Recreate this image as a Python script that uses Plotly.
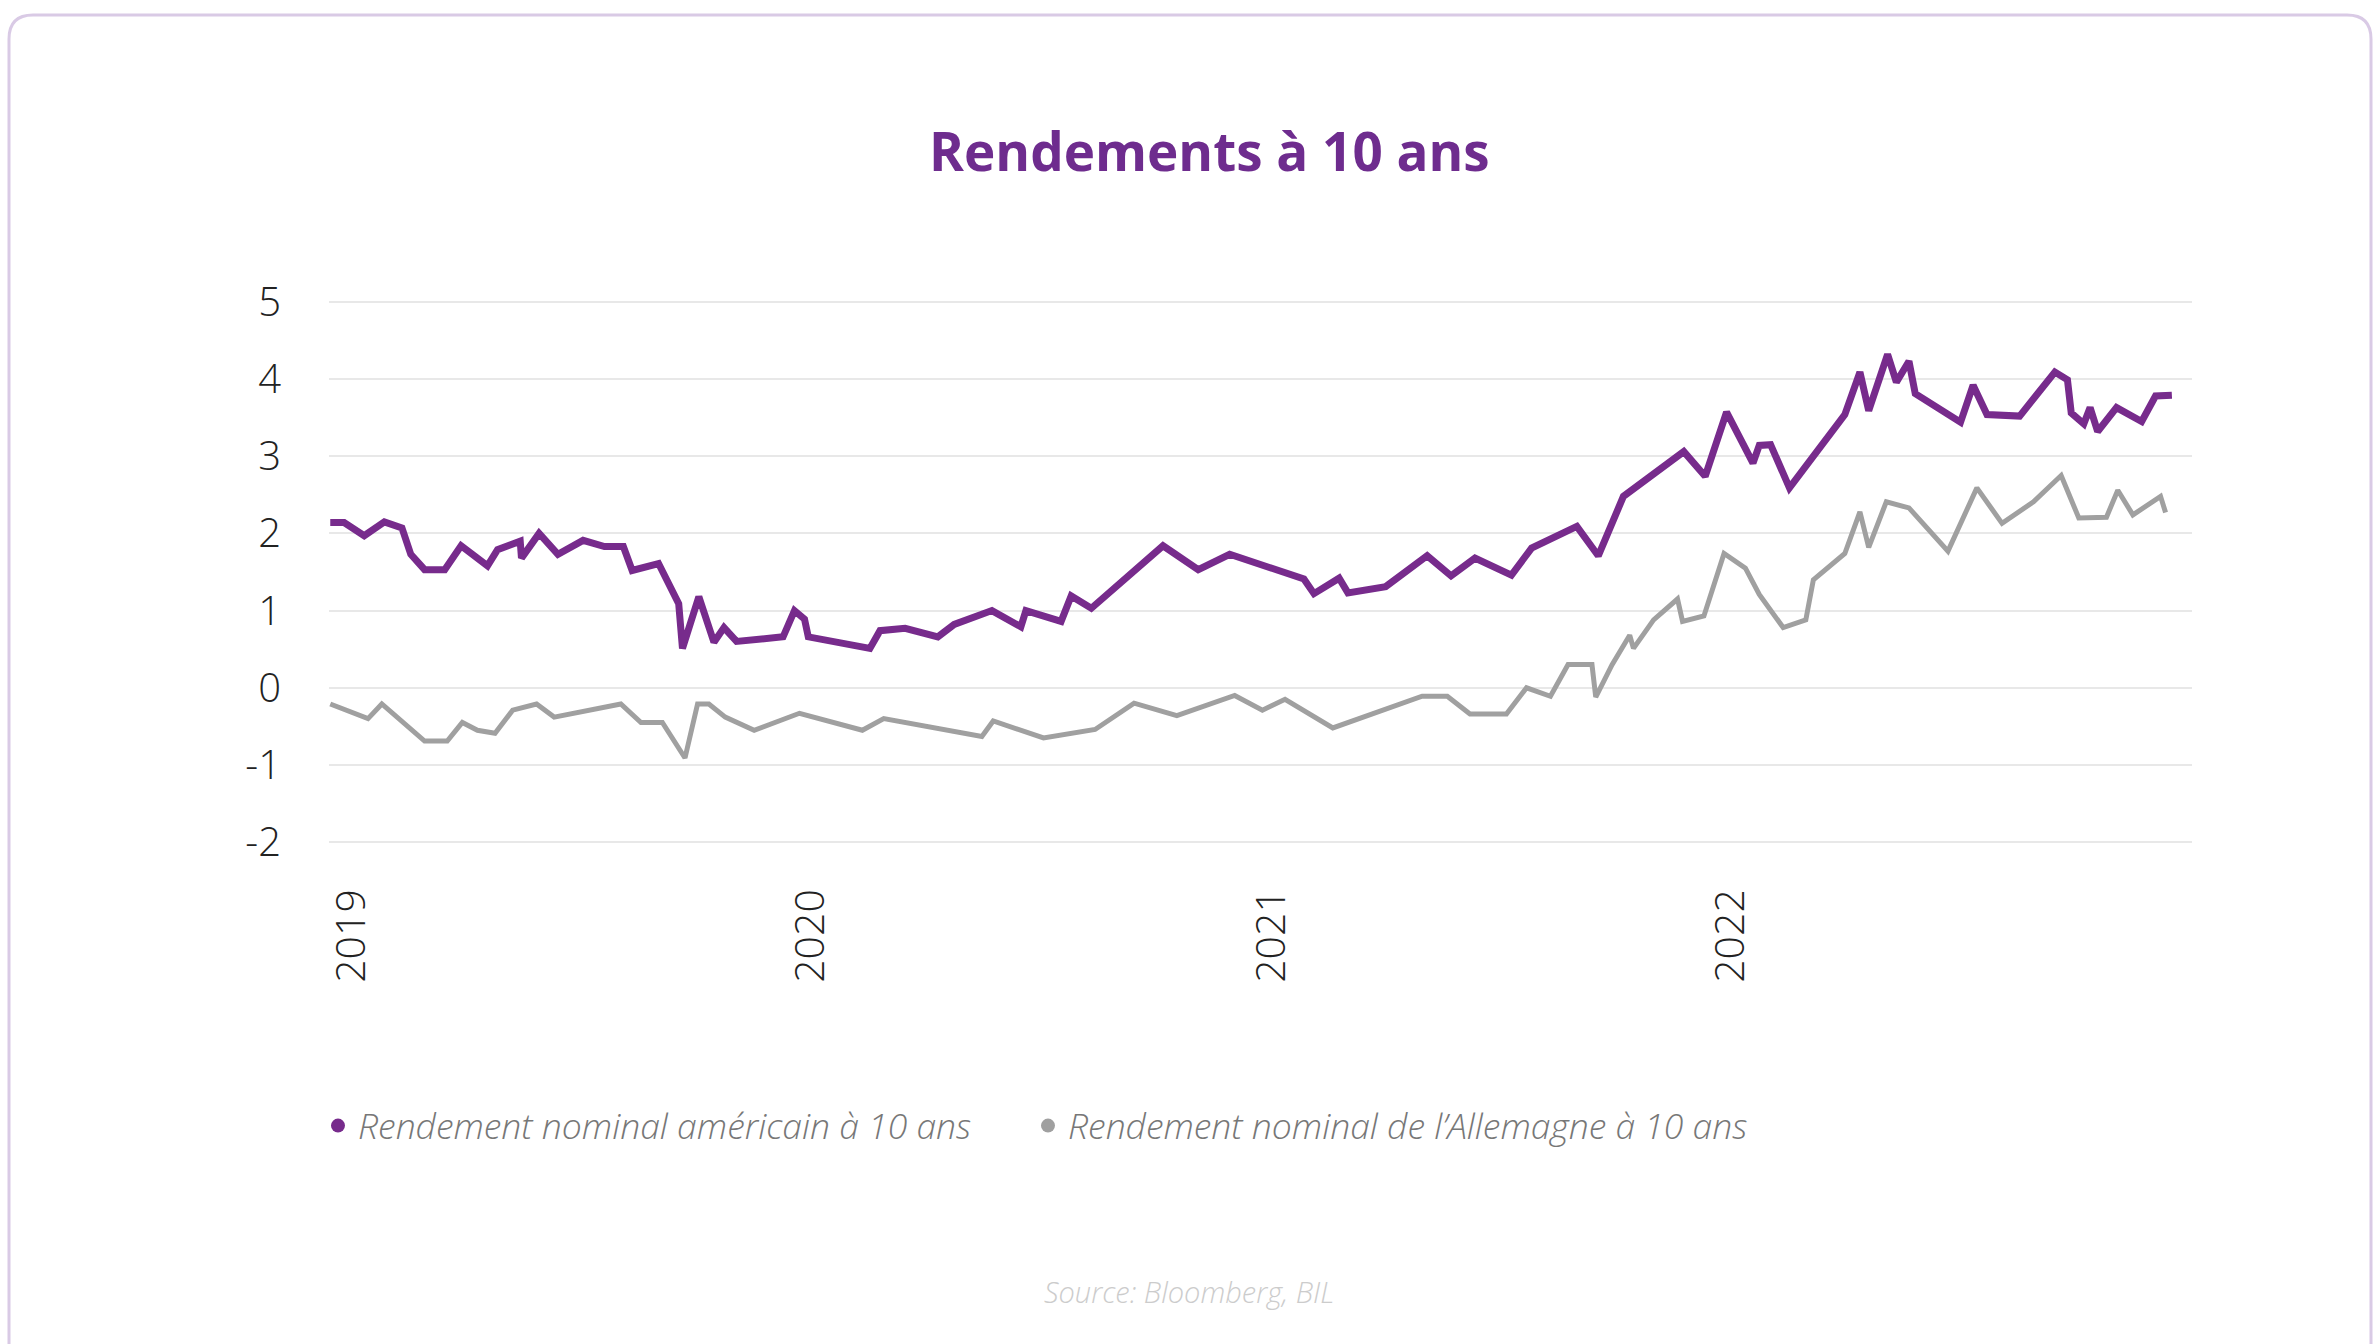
import plotly.graph_objects as go

# ---------------- data ----------------
us_dates = [
    "2018-12-15", "2018-12-26", "2019-01-11", "2019-01-27", "2019-02-10", "2019-02-17",
    "2019-02-28", "2019-03-16", "2019-03-29", "2019-04-19", "2019-04-27", "2019-05-15",
    "2019-05-16", "2019-05-30", "2019-06-14", "2019-07-04", "2019-07-21", "2019-08-05",
    "2019-08-12", "2019-09-02", "2019-09-18", "2019-09-21", "2019-10-04", "2019-10-16",
    "2019-10-24", "2019-11-03", "2019-12-10", "2019-12-19", "2019-12-27", "2019-12-30",
    "2020-02-17", "2020-02-25", "2020-03-16", "2020-04-11", "2020-04-24", "2020-05-24",
    "2020-06-16", "2020-06-20", "2020-07-18", "2020-07-26", "2020-08-11", "2020-10-07",
    "2020-11-04", "2020-11-29", "2021-01-27", "2021-02-04", "2021-02-24", "2021-03-03",
    "2021-04-02", "2021-05-05", "2021-05-24", "2021-06-12", "2021-07-11", "2021-07-27",
    "2021-09-01", "2021-09-18", "2021-10-08", "2021-11-25", "2021-12-12", "2021-12-29",
    "2022-01-19", "2022-01-24", "2022-02-02", "2022-02-17", "2022-04-02", "2022-04-14",
    "2022-04-21", "2022-05-06", "2022-05-13", "2022-05-23", "2022-05-28", "2022-07-03",
    "2022-07-13", "2022-07-24", "2022-08-19", "2022-09-16", "2022-09-26", "2022-09-29",
    "2022-10-09", "2022-10-14", "2022-10-20", "2022-11-04", "2022-11-24", "2022-12-05",
    "2022-12-18",
]
us_yield = [
    2.14, 2.14, 1.97, 2.15, 2.07, 1.73,
    1.53, 1.53, 1.84, 1.58, 1.79, 1.90,
    1.68, 2.00, 1.73, 1.91, 1.83, 1.83,
    1.52, 1.61, 1.09, 0.51, 1.18, 0.59,
    0.78, 0.60, 0.66, 1.00, 0.89, 0.66,
    0.51, 0.74, 0.77, 0.66, 0.82, 1.00,
    0.79, 1.00, 0.86, 1.19, 1.03, 1.84,
    1.53, 1.73, 1.41, 1.22, 1.42, 1.23,
    1.31, 1.71, 1.45, 1.68, 1.46, 1.81,
    2.09, 1.71, 2.48, 3.06, 2.74, 3.57,
    2.91, 3.14, 3.15, 2.59, 3.54, 4.09,
    3.59, 4.32, 3.96, 4.23, 3.81, 3.44,
    3.92, 3.54, 3.52, 4.09, 3.99, 3.56,
    3.42, 3.63, 3.32, 3.63, 3.45, 3.78,
    3.79,
]

de_dates = [
    "2018-12-15", "2019-01-14", "2019-01-25", "2019-02-28", "2019-03-18", "2019-03-30",
    "2019-04-11", "2019-04-25", "2019-05-09", "2019-05-28", "2019-06-11", "2019-08-03",
    "2019-08-19", "2019-09-05", "2019-09-23", "2019-10-03", "2019-10-12", "2019-10-25",
    "2019-11-17", "2019-12-23", "2020-02-11", "2020-02-28", "2020-05-16", "2020-05-25",
    "2020-07-04", "2020-08-14", "2020-09-14", "2020-10-18", "2020-12-03", "2020-12-25",
    "2021-01-12", "2021-02-19", "2021-05-01", "2021-05-21", "2021-06-08", "2021-07-07",
    "2021-07-23", "2021-08-11", "2021-08-25", "2021-09-13", "2021-09-16", "2021-09-29",
    "2021-10-13", "2021-10-16", "2021-11-01", "2021-11-20", "2021-11-24", "2021-12-11",
    "2021-12-27", "2022-01-13", "2022-01-24", "2022-02-12", "2022-03-02", "2022-03-08",
    "2022-04-02", "2022-04-14", "2022-04-21", "2022-05-05", "2022-05-23", "2022-06-23",
    "2022-07-16", "2022-08-05", "2022-08-30", "2022-09-21", "2022-10-05", "2022-10-27",
    "2022-11-05", "2022-11-17", "2022-12-09", "2022-12-13",
]
de_yield = [
    -0.21, -0.40, -0.21, -0.69, -0.69, -0.45,
    -0.55, -0.59, -0.29, -0.21, -0.38, -0.21,
    -0.45, -0.45, -0.91, -0.21, -0.21, -0.38,
    -0.55, -0.33, -0.55, -0.40, -0.63, -0.43,
    -0.65, -0.54, -0.20, -0.36, -0.10, -0.29,
    -0.15, -0.52, -0.11, -0.11, -0.34, -0.34,
    0.00, -0.11, 0.30, 0.30, -0.12, 0.30,
    0.68, 0.51, 0.88, 1.15, 0.86, 0.93,
    1.74, 1.55, 1.21, 0.78, 0.88, 1.40,
    1.74, 2.28, 1.82, 2.41, 2.33, 1.77,
    2.59, 2.13, 2.41, 2.75, 2.20, 2.21,
    2.56, 2.24, 2.48, 2.27,
]

series_names = [
    "Rendement nominal américain à 10 ans",
    "Rendement nominal de l’Allemagne à 10 ans",
]
year_ticks = ["2019-01-01", "2020-01-01", "2021-01-01", "2022-01-01"]
year_labels = ["2019", "2020", "2021", "2022"]
y_ticks = [5, 4, 3, 2, 1, 0, -1, -2]
y_labels = ["5", "4", "3", "2", "1", "0", "-1", "-2"]

title_text = "Rendements à 10 ans"
source_text = "Source: Bloomberg, BIL"

# ---------------- styling / layout ----------------
W, H = 2376, 1344
ML, MR, MT, MB = 329, 184, 298, 498
PW, PH = W - ML - MR, H - MT - MB

PURPLE = "#772b8c"
GREY = "#a0a0a0"
FONT = "Open Sans"


def px2paper_x(px):
    return (px - ML) / PW


def px2paper_y(py):
    return (H - MB - py) / PH


fig = go.Figure()
fig.add_trace(go.Scatter(x=us_dates, y=us_yield, mode="lines",
                         line=dict(color=PURPLE, width=7), showlegend=False,
                         name=series_names[0]))
fig.add_trace(go.Scatter(x=de_dates, y=de_yield, mode="lines",
                         line=dict(color=GREY, width=5), showlegend=False,
                         name=series_names[1]))
# legend entries (dot symbols)
fig.add_trace(go.Scatter(x=[None], y=[None], mode="markers",
                         marker=dict(color=PURPLE, size=14), name=series_names[0],
                         legendwidth=665))
fig.add_trace(go.Scatter(x=[None], y=[None], mode="markers",
                         marker=dict(color=GREY, size=14), name=series_names[1],
                         legendwidth=760))

# card border
r = 24
x0, x1 = px2paper_x(9), px2paper_x(2371)
y0 = px2paper_y(1400)
yt = px2paper_y(15)
ryp = r / PH
rxp = r / PW
path = (f"M {x0},{y0} L {x0},{yt - ryp} Q {x0},{yt} {x0 + rxp},{yt} "
        f"L {x1 - rxp},{yt} Q {x1},{yt} {x1},{yt - ryp} L {x1},{y0}")
fig.add_shape(type="path", path=path, xref="paper", yref="paper",
              line=dict(color="#d9cae5", width=3), layer="below")

fig.add_annotation(text=f"<b>{title_text}</b>", x=px2paper_x(1209), y=px2paper_y(150),
                   xref="paper", yref="paper", showarrow=False,
                   xanchor="center", yanchor="middle",
                   font=dict(family=FONT, size=53, color="#6e2c8e"))
fig.add_annotation(text=source_text, x=px2paper_x(1189), y=px2paper_y(1291),
                   xref="paper", yref="paper", showarrow=False,
                   xanchor="center", yanchor="middle",
                   font=dict(family=FONT, size=29, color="#cccccc", style="italic", weight=300))

fig.update_layout(
    width=W, height=H,
    margin=dict(l=ML, r=MR, t=MT, b=MB, pad=0),
    paper_bgcolor="white", plot_bgcolor="white",
    font=dict(family=FONT, color="#333333"),
    legend=dict(orientation="h", x=px2paper_x(318), y=px2paper_y(1126),
                xanchor="left", yanchor="middle",
                font=dict(family=FONT, size=35.5, color="#777777", style="italic", weight=300),
                bgcolor="rgba(0,0,0,0)"),
)
fig.update_xaxes(type="date", range=["2018-12-14", "2023-01-03"],
                 tickmode="array", tickvals=year_ticks, ticktext=year_labels,
                 tickangle=-90, showgrid=False, zeroline=False, showline=False,
                 ticks="", ticklabelstandoff=34,
                 tickfont=dict(family=FONT, size=41, color="#222222", weight=300))
fig.update_yaxes(range=[-2.05, 5.05], tickmode="array", tickvals=y_ticks, ticktext=y_labels,
                 showgrid=True, gridcolor="#e8e8e8", gridwidth=1.5,
                 zeroline=False, showline=False, ticks="", ticklabelstandoff=47,
                 tickfont=dict(family=FONT, size=40, color="#222222", weight=300))

fig.write_html("out.html", config={"displayModeBar": False},
               post_script="document.body.style.margin='0px';")
